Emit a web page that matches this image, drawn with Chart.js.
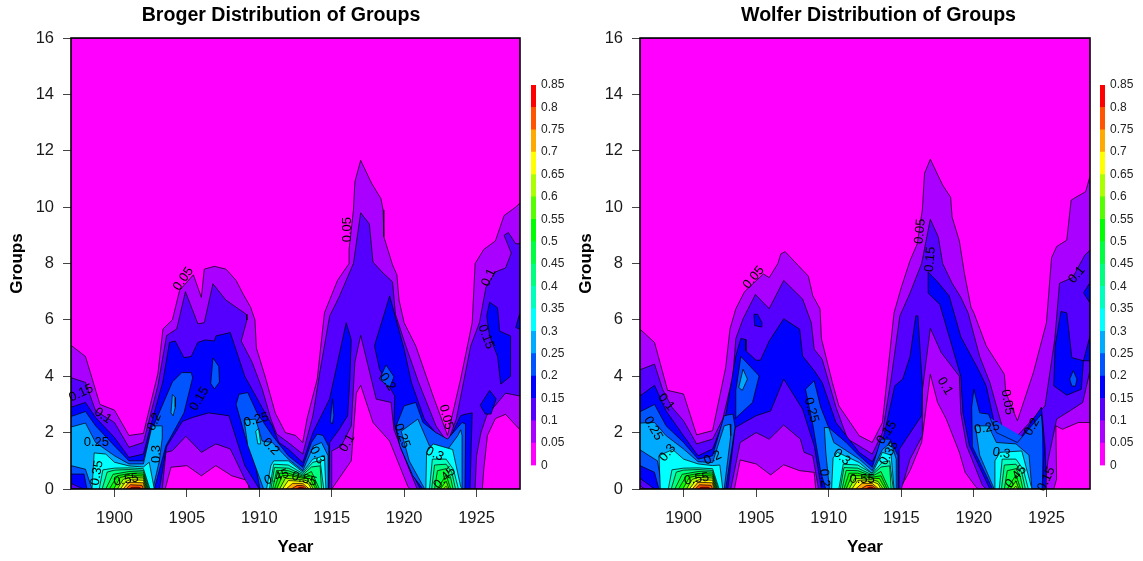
<!DOCTYPE html>
<html>
<head>
<meta charset="utf-8">
<title>Broger and Wolfer Distribution of Groups</title>
<script src="https://cdn.jsdelivr.net/npm/chart.js@4"></script>
<style>
    body { margin: 0; background: #fff; }
    canvas { position: absolute; }
</style>
</head>
<body>
<canvas id="brogerChart" width="562" height="561" style="left:0;top:0"></canvas>
<canvas id="wolferChart" width="562" height="561" style="left:569px;top:0"></canvas>
<canvas id="brogerScale" width="46" height="410" style="left:531px;top:70px"></canvas>
<canvas id="wolferScale" width="46" height="410" style="left:1100px;top:70px"></canvas>
<script>
// values: [year, groups] along each contour
const levels = [0, 0.05, 0.1, 0.15, 0.2, 0.25, 0.3, 0.35, 0.4, 0.45, 0.5, 0.55, 0.6, 0.65, 0.7, 0.75, 0.8, 0.85];
const fieldTop = [[1897, 16], [1928, 16]];

// Broger contours
const b05top = [[1897,5.1],[1898,4.7],[1899,3],[1900,2.8],[1901,1.9],[1902,1.97],[1903,4.1],[1903.35,5.68],[1904,6],[1904.5,7.05],[1905.45,7.6],[1906,6.8],[1906.2,7.8],[1906.9,7.9],[1907.7,7.8],[1908.4,7.4],[1908.9,6.9],[1909.4,6.45],[1909.7,6],[1909.8,5],[1910.4,4],[1911.1,2.7],[1911.8,2],[1912.5,1.9],[1913,1.65],[1913.3,2.5],[1914,3.9],[1914.5,6.25],[1915.4,7.4],[1916.2,8],[1916.2,8.5],[1916.5,9.9],[1916.6,10.9],[1917,11.66],[1917.75,10.85],[1918.4,10.3],[1918.55,9.9],[1918.6,8.95],[1919.2,7.95],[1919.5,7.6],[1919.65,6.7],[1920,5.9],[1920.8,5.08],[1922,3.3],[1923,1.9],[1923.9,3.9],[1924.7,5.9],[1924.9,8],[1925.5,8.5],[1926.3,8.8],[1926.9,9.7],[1927.7,10],[1928,10.15]];
const b05low = [[1897,0],[1903.5,0],[1903.9,.77],[1905,.83],[1906,.47],[1907,.83],[1908.1,.47],[1909.2,.3],[1909.3,0],[1915,0],[1916.35,1],[1916.7,3.4],[1917,3.68],[1917.85,2.36],[1919,1.7],[1920.25,.1],[1920.4,0],[1925.4,0],[1925.5,.7],[1925.75,1.9],[1926.3,2.5],[1927,2.65],[1928,2.1]];
const b10top = [[1897,3.95],[1898,3.78],[1898.7,2.77],[1900,2.36],[1901,1.48],[1902,1.65],[1903,3.66],[1903.6,5.44],[1904.3,5.68],[1904.9,7],[1905.76,5.86],[1906.2,5.9],[1906.8,7.28],[1907.7,6.7],[1909.1,6.2],[1909.15,6],[1908.75,5.25],[1909.5,4.5],[1910.2,3.55],[1910.8,2.48],[1911.2,1.95],[1912,1.65],[1913,1.24],[1913.7,2.6],[1914.2,4.2],[1914.86,6.14],[1915.5,6.8],[1916.5,8],[1917,9.8],[1917.6,9.4],[1917.85,8.05],[1918.55,7.66],[1919.2,7.35],[1919.4,6.2],[1920.1,5.1],[1921,3.78],[1922.2,2.24],[1923,1.65],[1923.6,2.48],[1924.6,5.08],[1925.2,5.9],[1925.65,7.16],[1926.3,7.7],[1927,7.84],[1927.4,8.37],[1926.9,9],[1927.2,9.1],[1927.7,8.7],[1928,8.7]];
const b10low = [[1897,0],[1903.3,0],[1903.55,1.3],[1904,1.36],[1904.93,1.87],[1906,1.3],[1907,1.6],[1908,1.42],[1909,.35],[1909.4,0],[1915,0],[1915,1.35],[1915.66,1.53],[1916.35,2.24],[1916.6,4.5],[1917,5.45],[1918.07,3.19],[1919.1,3.07],[1919.3,2.1],[1920.25,.83],[1920.9,0],[1924.9,0],[1925,1.18],[1925.3,2],[1925.7,2.6],[1927,3.4],[1928,3.3]];
const b15top = [[1897,2.9],[1898,3.07],[1898.7,2.54],[1900,1.83],[1901,1.12],[1902,1.24],[1902.5,2.24],[1903.33,3.78],[1903.8,5.2],[1904.2,5.25],[1904.8,4.66],[1905.3,4.7],[1905.75,5.2],[1906.3,5.29],[1906.9,5.25],[1907,5.43],[1908,5.55],[1909,4],[1910,3.07],[1910.9,2.24],[1911.35,1.65],[1912,1.42],[1913,.94],[1913.7,2],[1914.85,3.19],[1916,5.9],[1916.35,5.3]];
const b15low = [[1897,.2],[1897.85,0],[1903.1,0],[1903.6,1.5],[1904.7,2.4],[1905.4,2.54],[1906.5,2.7],[1907.9,2.6],[1909,.83],[1910,0],[1914.8,0],[1914.86,1.65],[1915.5,2.1],[1916.1,2.6],[1916.25,3.9],[1916.35,5.3]];
const b15top2 = [[1917.95,5.08],[1919,6.85],[1920,4.96],[1920.5,3.78],[1921.4,2.48],[1922.9,1.53],[1923.9,2.6],[1924.2,2.65],[1924.7,2.7]];
const b15low2 = [[1917.95,5.08],[1918.3,4.25],[1919.35,3.3],[1919.3,2.36],[1919.8,1.4],[1921.1,0],[1924.55,0],[1924.7,2.7]];
const b15top3 = [[1925.7,6.14],[1925.9,6.63],[1926.45,6.43],[1926.6,5.6],[1927.35,5.43]];
const b15low3 = [[1925.7,6.14],[1925.9,5.43],[1926.45,4.7],[1926.67,3.72],[1927.35,4],[1927.35,5.43]];
const b15top4 = [[1925.25,2.97],[1925.9,3.5],[1926.35,3.2]];
const b15low4 = [[1925.25,2.97],[1925.6,2.66],[1926,2.66],[1926.35,3.2]];
const b15top5 = [[1927.7,5.73],[1928,6.26]];
const b15low5 = [[1927.7,5.73],[1928,5.67]];
const b20top = [[1897,2.57],[1898,2.75],[1898.7,2.24],[1900,1.53],[1901,1],[1902,1],[1902.5,2],[1903,2.6],[1904,3.8],[1904.65,4.13],[1905.3,4.13],[1905.4,3.95]];
const b20low = [[1897,.53],[1897.9,.53],[1898.1,0],[1902.75,0],[1903.55,1.53],[1904.8,2.7],[1905.4,3.95]];
const b20top2 = [[1906.65,3.75],[1906.8,4.65],[1907.2,4.35],[1907.25,3.8]];
const b20low2 = [[1906.65,3.75],[1906.9,3.55],[1907.25,3.8]];
const b20top3 = [[1908.4,3],[1908.6,3.36],[1909.2,3.42],[1909.85,2.7],[1910.9,1.9],[1912,1.18],[1913,.77],[1913.6,1.65],[1914,1.95],[1914.4,1.9],[1914.8,1.5]];
const b20low3 = [[1908.4,3],[1909,1.9],[1909.75,.83],[1910.05,0],[1914.8,0],[1914.8,1.5]];
const b20top4 = [[1918.3,3.9],[1918.75,4.4],[1919.3,3.98]];
const b20low4 = [[1918.3,3.9],[1919,3.6],[1919.3,3.98]];
const b20top5 = [[1919.45,2.24],[1920,2.95],[1920.8,3.07],[1921.3,2.36],[1922.2,2],[1923,1.77],[1924,2.36],[1924.25,2.3]];
const b20low5 = [[1919.45,2.24],[1919.7,1.53],[1920.6,.47],[1921.3,0],[1924.2,0],[1924.25,2.3]];
const b20top6 = [[1914.9,2.4],[1915.05,3.2],[1915.15,2.6]];
const b20low6 = [[1914.9,2.4],[1915.05,2.3],[1915.15,2.6]];
const b25top = [[1897,2.2],[1898,2.34],[1898.7,1.65],[1900,1.18],[1901,.89],[1902,.89],[1902.6,2.24],[1903.3,2.24]];
const b25low = [[1897,.83],[1898,.7],[1898.45,0],[1902.65,0],[1903.1,1],[1903.3,1.8],[1903.3,2.24]];
const b25top2 = [[1903.9,2.7],[1904,3.35],[1904.2,3.25],[1904.2,2.9]];
const b25low2 = [[1903.9,2.7],[1904.05,2.6],[1904.2,2.9]];
const b25top3 = [[1908.95,2.45],[1909.75,2.48],[1910.2,1.7],[1910.9,1.65],[1912,1.06],[1913,.65],[1913.75,1.53],[1914.3,1.65],[1914.75,1.18]];
const b25low3 = [[1908.95,2.45],[1909.2,1.55],[1910.3,0],[1914.75,0],[1914.75,1.18]];
const b25top4 = [[1919.8,2.05],[1920.95,2.48],[1921.75,1.53],[1923,1.4],[1923.7,1.89],[1923.9,2.1],[1924,1.9]];
const b25low4 = [[1919.8,2.05],[1920.35,1],[1921.42,0],[1924,0],[1924,1.9]];
const b30top = [[1898.45,0],[1898.6,1.28],[1899.4,1.24],[1900,.95],[1901,.82],[1902,.78],[1902.4,.95],[1902.75,0]];
const b30top2 = [[1909.75,2.05],[1909.95,2.15],[1910.1,1.6]];
const b30low2 = [[1909.75,2.05],[1909.9,1.6],[1910.1,1.6]];
const b30top3 = [[1910.5,0],[1910.8,.83],[1911,1],[1912,1],[1913,.6],[1913.7,1.06],[1914.5,1.18],[1914.6,0]];
const b30top4 = [[1921.5,0],[1921.55,1.3],[1922,1.6],[1923.35,1.4],[1923.9,.1],[1924,0]];

// Wolfer contours
const w05top = [[1897,5.67],[1898,5.2],[1898.9,3.5],[1900,3.37],[1900.9,1.92],[1902,2.07],[1902.9,4.3],[1903.2,5.68],[1903.6,6.39],[1904.2,7],[1905.5,7.63],[1905.9,7.5],[1906.5,8],[1906.7,8.34],[1907,8.42],[1907.9,7.93],[1908.6,7.55],[1908.9,6.86],[1909.4,6.39],[1909.5,5.33],[1910.25,3.78],[1910.7,2.95],[1912.1,1.89],[1913,1.65],[1913.7,2.36],[1914.5,6.25],[1915,7.15],[1915.6,8.1],[1916.1,8.7],[1916.45,9.9],[1916.6,11.2],[1917,11.7],[1917.85,10.78],[1918.4,10.35],[1918.5,9.65],[1919,8.8],[1919.35,7.65],[1919.8,6.45],[1920,6.25],[1920.85,5.08],[1922.1,4.07],[1922.2,3.42],[1923,2.42],[1924.1,4.13],[1925,5.9],[1925.35,8.2],[1925.7,8.6],[1926.4,8.83],[1926.7,10.25],[1927.7,10.55],[1928,11.1]];
const w05low = [[1897,0],[1903.5,0],[1903.9,1.03],[1905,.89],[1906,.5],[1906.9,.86],[1908,.65],[1909,.59],[1909.1,0],[1914.9,0],[1915.6,.65],[1916.4,1.65],[1917,4.07],[1917.5,3.07],[1918.1,2.48],[1919,1.3],[1919.4,.59],[1920.1,.1],[1920.3,0],[1925.5,0],[1925.7,.35],[1925.65,2.24],[1926.1,2.12],[1927.2,2.36],[1928,2.36]];
const w10top = [[1897,4.23],[1898,4.43],[1898.55,3.54],[1899.2,2.9],[1900,2.42],[1900.9,1.6],[1902,1.77],[1902.7,2.48],[1903.4,4],[1903.6,5.33],[1904.1,6.04],[1904.95,6.9],[1905.9,6.4],[1906.9,7.4],[1908.2,6.74],[1908.8,5.9],[1909,4.96],[1909.55,4.6],[1910.5,2.9],[1911.3,1.77],[1912.1,1.53],[1913,1.24],[1913.7,2],[1914.3,3.9],[1914.9,6.14],[1915.6,6.95],[1916.4,8],[1917,9.57],[1917.55,8.94],[1917.85,8],[1918.5,7.3],[1919.1,6.8],[1919.6,6.25],[1920.4,4.7],[1921.1,3.78],[1922,2.12],[1923,1.89],[1924.9,2.95],[1925.57,5.3],[1925.9,7.3],[1926.8,7.5],[1927.65,8.3],[1928,8.47]];
const w10low = [[1897,.12],[1897.3,0],[1903.25,0],[1903.9,1.65],[1905,2],[1905.9,1.77],[1906.9,2.27],[1908.05,1.77],[1908.3,1.3],[1908.9,1.18],[1909.3,0],[1915,0],[1915.6,1.06],[1916.45,1.89],[1916.45,3.5],[1917,5.7],[1917.75,4.84],[1919,4],[1919.1,2.7],[1919.5,1.53],[1920.6,.12],[1920.85,0],[1924.9,0],[1925.1,1],[1925.7,2.48],[1926.6,2.77],[1927.5,3.07],[1928,4.2]];
const w15top = [[1897,3.3],[1898,3.68],[1898.8,2.77],[1900,1.89],[1901,1.18],[1902,1.42],[1902.9,2.6],[1903.6,4.72],[1903.95,5.34],[1904.3,5.3],[1904.3,4.9],[1905,4.57],[1905.3,4.57],[1905.9,5.25],[1906.9,6.04],[1908,5.67],[1908.2,4.72],[1909,4.2],[1909.55,3.78],[1910.5,2.36],[1912.1,1.3],[1913,.97],[1913.7,1.65],[1914.55,3.66],[1915.1,3.9],[1915.6,4.7],[1916,6.14],[1916.15,6.14],[1916.45,3.66]];
const w15low = [[1897,.38],[1898,0],[1903.05,0],[1903.55,2.18],[1905,2.6],[1906,2.77],[1906.9,3.9],[1908.2,2.83],[1909,1.53],[1909.5,0],[1914.85,0],[1914.85,1.4],[1916.4,2.6],[1916.45,3.66]];
const w15top2 = [[1916.85,6.95],[1916.85,7.7],[1917.5,7.35],[1918.3,6.85],[1919.1,5.4],[1920.3,4.25],[1920.85,3.66],[1921.5,2.12],[1923,1.65],[1924.65,2.9],[1924.9,1.53],[1925,0]];
const w15low2 = [[1916.85,6.95],[1917.65,6.55],[1919.1,4],[1919.25,2.7],[1919.7,1.53],[1921.1,0],[1925,0]];
const w15top3 = [[1925.5,3.66],[1925.6,5.08],[1926,6.3],[1926.4,6.25],[1926.75,4.66],[1927.55,4.55],[1928,5.43]];
const w15low3 = [[1925.5,3.66],[1926.4,3.33],[1927.4,3.54],[1927.55,4.55],[1928,4.55]];
const w15top4 = [[1927.55,6.96],[1928,7.32]];
const w15low4 = [[1927.55,6.96],[1928,6.6]];
const w15top5 = [[1904.85,6.2],[1905.1,6.2],[1905.4,5.9]];
const w15low5 = [[1904.85,6.2],[1904.9,5.8],[1905.35,5.75],[1905.4,5.9]];
const w20top = [[1897,2.74],[1898,3],[1898.8,2.24],[1900,1.65],[1901,1.06],[1902,1.18],[1902.8,2.6],[1903.4,2.66],[1903.55,2.2]];
const w20low = [[1897,.83],[1898,.59],[1898.3,0],[1902.9,0],[1903.55,2.2]];
const w20top2 = [[1903.55,2.5],[1903.6,3.5],[1903.95,4.7],[1905.1,4.07],[1905.2,4]];
const w20low2 = [[1903.55,2.5],[1904.75,3.07],[1905.2,4]];
const w20top3 = [[1908.4,3.54],[1909,3.84],[1909.45,2.9],[1910,2.18],[1911.2,1.65],[1912.1,1.18],[1913,.77],[1913.6,1.77],[1914.2,1.77],[1914.77,1.18]];
const w20low3 = [[1908.4,3.54],[1908.9,2.3],[1909.45,.6],[1909.8,0],[1914.77,0],[1914.77,1.18]];
const w20top4 = [[1919.85,2.9],[1920,3.54],[1920.4,2.7],[1921,2.66],[1921.55,2],[1923,1.65],[1924.65,2.65],[1924.85,1.4],[1924.7,0]];
const w20low4 = [[1919.85,2.9],[1919.9,1.5],[1921.3,0],[1924.7,0]];
const w20top5 = [[1926.6,3.9],[1926.85,4.2],[1927.1,3.9]];
const w20low5 = [[1926.6,3.9],[1926.75,3.65],[1927,3.65],[1927.1,3.9]];
const w25top = [[1897,2.34],[1898,2.36],[1898.8,1.89],[1900,1.42],[1901,.97],[1902,.94],[1902.8,2.24],[1903.2,2.3],[1903.25,1.89]];
const w25low = [[1897,1.39],[1898.2,1],[1898.55,0],[1902.8,0],[1903.25,1.89]];
const w25top2 = [[1903.8,3.6],[1904.1,4.25],[1904.4,3.9]];
const w25low2 = [[1903.8,3.6],[1904.05,3.5],[1904.4,3.9]];
const w25top3 = [[1909.7,2.18],[1910,2.18],[1910.35,1.65],[1912.1,1.06],[1913,.65],[1913.7,1.4],[1914.3,1.65],[1914.65,1.06]];
const w25low3 = [[1909.7,2.18],[1909.8,1.3],[1910.05,0],[1914.65,0],[1914.65,1.06]];
const w25top4 = [[1920.1,2.24],[1921,2.24],[1921.55,1.65],[1922.9,1.6],[1923.8,1.2],[1924,0]];
const w25low4 = [[1920.1,2.24],[1920.4,1.2],[1921.4,0],[1924,0]];
const w30top = [[1898.4,0],[1898.3,1.18],[1899.25,1.4],[1900,1.06],[1901,.89],[1902,.83],[1902.5,.85],[1902.7,0]];
const w30top2 = [[1910.2,0],[1910.3,1.1],[1910.6,1.3],[1912.1,.94],[1913,.55],[1913.7,1.3],[1914.3,1.2],[1914.5,0]];
const w30top3 = [[1921.45,0],[1921.45,1],[1921.8,1.3],[1923.3,1.35],[1924,0]];

// peaks near zero, about the same in both panels
const a35 = [[1898.95,0],[1899.2,.68],[1900,.74],[1901,.75],[1902,.72],[1902.45,0]];
const a40 = [[1899.15,0],[1899.5,.6],[1900,.67],[1901,.69],[1902,.66],[1902.4,0]];
const a45 = [[1899.4,0],[1899.9,.52],[1901,.62],[1902,.6],[1902.33,0]];
const a50 = [[1899.65,0],[1900.2,.47],[1901,.55],[1902,.53],[1902.28,0]];
const a55 = [[1899.95,0],[1900.4,.41],[1901,.48],[1902,.46],[1902.22,0]];
const a60 = [[1900.2,0],[1900.6,.34],[1901,.41],[1902,.39],[1902.17,0]];
const a65 = [[1900.4,0],[1900.8,.27],[1901.1,.33],[1902,.31],[1902.12,0]];
const a70 = [[1900.6,0],[1901,.24],[1902,.22],[1902.07,0]];
const a75 = [[1900.8,0],[1901.1,.15],[1901.9,.13],[1902,0]];
const a80 = [[1901,0],[1901.2,.06],[1901.7,.06],[1901.9,0]];
const m35 = [[1910.7,0],[1911,.88],[1912,.85],[1913,.55],[1913.7,.95],[1914.2,1],[1914.45,0]];
const m40 = [[1910.8,0],[1911.05,.76],[1912,.74],[1913,.5],[1913.6,.78],[1914.2,.82],[1914.3,0]];
const m45 = [[1910.92,0],[1911.2,.66],[1912,.65],[1913,.46],[1913.6,.62],[1914.15,0]];
const m50 = [[1911.05,0],[1911.4,.56],[1912,.56],[1913,.42],[1913.6,.47],[1914.02,0]];
const m55 = [[1911.2,0],[1911.6,.48],[1912.2,.47],[1913,.38],[1913.5,.37],[1913.9,0]];
const m60 = [[1911.4,0],[1911.8,.38],[1913,.33],[1913.4,.27],[1913.75,0]];
const m65 = [[1911.6,0],[1912,.3],[1913,.27],[1913.4,.18],[1913.6,0]];
const m70 = [[1911.85,0],[1912.3,.2],[1913,.2],[1913.45,0]];
const m75 = [[1912.2,0],[1912.6,.12],[1913,.13],[1913.3,0]];
const m80 = [[1912.55,0],[1912.8,.06],[1913,.06],[1913.15,0]];
const z35 = [[1921.75,0],[1921.95,1.06],[1922.9,1.06],[1923.4,.7],[1923.75,0]];
const z40 = [[1921.9,0],[1922.1,.85],[1922.9,.88],[1923.3,.58],[1923.55,0]];
const z45 = [[1922.1,0],[1922.3,.65],[1922.9,.72],[1923.2,.42],[1923.38,0]];
const z50 = [[1922.3,0],[1922.9,.5],[1923.22,0]];
const z55 = [[1922.5,0],[1922.9,.28],[1923.1,0]];
const z60 = [[1922.7,0],[1922.9,.1],[1923.02,0]];

// [index into levels, top contour, lower contour (missing = down to zero)]
const peakBands = [[7,a35],[7,m35],[7,z35],[8,a40],[8,m40],[8,z40],[9,a45],[9,m45],[9,z45],[10,a50],[10,m50],[10,z50],[11,a55],[11,m55],[11,z55],[12,a60],[12,m60],[12,z60],[13,a65],[13,m65],[14,a70],[14,m70],[15,a75],[15,m75],[16,a80],[16,m80]];
const brogerBands = [[0,fieldTop],[1,b05top,b05low],[2,b10top,b10low],[3,b15top,b15low],[3,b15top2,b15low2],[3,b15top3,b15low3],[3,b15top4,b15low4],[3,b15top5,b15low5],[4,b20top,b20low],[4,b20top2,b20low2],[4,b20top3,b20low3],[4,b20top4,b20low4],[4,b20top5,b20low5],[4,b20top6,b20low6],[5,b25top,b25low],[5,b25top2,b25low2],[5,b25top3,b25low3],[5,b25top4,b25low4],[6,b30top],[6,b30top2,b30low2],[6,b30top3],[6,b30top4]].concat(peakBands);
const wolferBands = [[0,fieldTop],[1,w05top,w05low],[2,w10top,w10low],[3,w15top,w15low],[3,w15top2,w15low2],[3,w15top3,w15low3],[3,w15top4,w15low4],[3,w15top5,w15low5],[4,w20top,w20low],[4,w20top2,w20low2],[4,w20top3,w20low3],[4,w20top4,w20low4],[4,w20top5,w20low5],[5,w25top,w25low],[5,w25top2,w25low2],[5,w25top3,w25low3],[5,w25top4,w25low4],[6,w30top],[6,w30top2],[6,w30top3]].concat(peakBands);

// contour labels: [text, year, groups, angle]
const brogerLabels = [['0.05',1904.76,7.45,-55],['0.05',1916.1,9.2,-90],['0.15',1897.7,3.4,-25],['0.1',1899.2,2.6,35],['0.25',1898.75,1.65,0],['0.35',1898.8,.57,-80],['0.55',1900.8,.32,-10],['0.2',1902.75,2.38,-65],['0.3',1902.9,1.24,-90],['0.15',1905.86,3.2,-60],['0.25',1909.8,2.45,-15],['0.2',1910.8,1.5,45],['0.45',1911.2,.42,-20],['0.55',1913.1,.35,15],['0.3',1914,1.2,60],['0.1',1916.07,1.63,-60],['0.2',1918.85,3.8,55],['0.25',1919.85,1.88,70],['0.05',1922.9,2.55,75],['0.3',1922.1,1.24,25],['0.45',1922.8,.39,-45],['0.15',1925.65,5.4,70],['0.1',1925.85,7.5,-65]];
const wolferLabels = [['0.05',1904.83,7.5,-50],['0.05',1916.3,9.14,-85],['0.15',1917,8.15,-85],['0.1',1898.8,3.08,50],['0.25',1897.9,2.15,60],['0.3',1898.9,1.28,-50],['0.55',1900.9,.35,-10],['0.2',1902,1.1,-25],['0.25',1908.8,2.8,75],['0.2',1909.7,.39,85],['0.3',1910.9,1.13,40],['0.55',1912.3,.35,0],['0.15',1914,2,-55],['0.35',1914.15,1.27,-60],['0.1',1918,3.65,60],['0.05',1922.3,3.08,80],['0.25',1920.9,2.16,-10],['0.3',1921.9,1.27,10],['0.45',1922.9,.43,-50],['0.2',1924,2.2,-60],['0.15',1925,.35,-65],['0.1',1927.1,7.6,-50]];

const levelColors = ['#FF00FF','#AA00FF','#5500FF','#0000FF','#0055FF','#00AAFF','#00FFFF','#00FFBF','#00FF80','#00FF40','#00FF00','#55FF00','#AAFF00','#FFFF00','#FFAA00','#FF5500','#FF0000'];

const fontFamily = '"Liberation Sans", Arial, sans-serif';
const toPoints = rows => rows.map(r => ({ x: r[0], y: r[1] }));

// chart box, contour labels and title position
const panelPlugin = {
    id: 'panel',
    afterLayout(chart, args, opts) {
        chart.titleBlock.left = 0;
        chart.titleBlock.right = opts.titleCenter * 2;
    },
    afterDatasetsDraw(chart, args, opts) {
        const { ctx, chartArea, scales } = chart;
        ctx.save();
        ctx.fillStyle = '#000';
        ctx.font = '13px ' + fontFamily;
        ctx.textAlign = 'center';
        ctx.textBaseline = 'middle';
        opts.labels.forEach(row => {
            ctx.save();
            ctx.translate(scales.x.getPixelForValue(row[1]), scales.y.getPixelForValue(row[2]));
            ctx.rotate(row[3] * Math.PI / 180);
            ctx.fillText(row[0], 0, 0);
            ctx.restore();
        });
        ctx.strokeStyle = '#000';
        ctx.lineWidth = 1.6;
        ctx.strokeRect(chartArea.left, chartArea.top, chartArea.width, chartArea.height);
        ctx.restore();
    }
};

function buildDatasets(bands) {
    const datasets = [];
    // first dataset is painted last, so the highest levels go first
    bands.slice().reverse().forEach(band => {
        const base = {
            borderColor: 'rgba(0,0,0,0.9)',
            borderWidth: 0.8,
            pointRadius: 0,
            tension: 0
        };
        if (band[2]) {
            datasets.push({ ...base, data: toPoints(band[2]), fill: false });
            datasets.push({ ...base, data: toPoints(band[1]), fill: '-1', backgroundColor: levelColors[band[0]] });
        } else {
            datasets.push({ ...base, data: toPoints(band[1]), fill: { value: 0 }, backgroundColor: levelColors[band[0]] });
        }
    });
    return datasets;
}

function renderPanel(canvasId, titleText, titleCenter, rightPad, bands, labels) {
    const ctx = document.getElementById(canvasId).getContext('2d');
    new Chart(ctx, {
        type: 'line',
        data: { datasets: buildDatasets(bands) },
        plugins: [panelPlugin],
        options: {
            responsive: false,
            animation: false,
            events: [],
            layout: { padding: { right: rightPad } },
            plugins: {
                legend: { display: false },
                tooltip: { enabled: false },
                title: {
                    display: true,
                    text: titleText,
                    color: '#000',
                    font: { family: fontFamily, size: 19.6, weight: 'bold', lineHeight: 1.2 },
                    padding: { top: 4, bottom: 10.5 }
                },
                panel: { titleCenter: titleCenter, labels: labels }
            },
            scales: {
                x: {
                    type: 'linear',
                    min: 1897,
                    max: 1928,
                    afterFit: scale => { scale.height = 72; },
                    grid: { drawOnChartArea: false, tickLength: 8, color: '#444' },
                    border: { display: false },
                    ticks: {
                        stepSize: 5,
                        includeBounds: false,
                        autoSkip: false,
                        maxRotation: 0,
                        padding: 12,
                        color: '#1a1a1a',
                        font: { family: fontFamily, size: 16.5 },
                        callback: value => String(value)
                    },
                    title: {
                        display: true,
                        text: 'Year',
                        color: '#000',
                        font: { family: fontFamily, size: 17, weight: 'bold', lineHeight: 1.2 },
                        padding: { top: 0, bottom: 3 }
                    }
                },
                y: {
                    min: 0,
                    max: 16,
                    afterFit: scale => { scale.width = 71; },
                    grid: { drawOnChartArea: false, tickLength: 8, color: '#444' },
                    border: { display: false },
                    ticks: {
                        stepSize: 2,
                        padding: 9,
                        color: '#1a1a1a',
                        font: { family: fontFamily, size: 16.5 }
                    },
                    title: {
                        display: true,
                        text: 'Groups',
                        color: '#000',
                        font: { family: fontFamily, size: 17, weight: 'bold', lineHeight: 1.2 },
                        padding: { top: 7, bottom: 0 }
                    }
                }
            }
        }
    });
}

function renderColorScale(canvasId) {
    const ctx = document.getElementById(canvasId).getContext('2d');
    new Chart(ctx, {
        type: 'bar',
        data: {
            labels: [''],
            datasets: levelColors.map((color, i) => ({
                data: [levels[i + 1] - levels[i]],
                backgroundColor: color,
                barPercentage: 1,
                categoryPercentage: 1,
                stack: 'scale'
            }))
        },
        options: {
            responsive: false,
            animation: false,
            events: [],
            layout: { padding: { top: 15, bottom: 14.5 } },
            plugins: { legend: { display: false }, tooltip: { enabled: false } },
            scales: {
                x: { display: false, stacked: true },
                y: {
                    position: 'right',
                    stacked: true,
                    min: 0,
                    max: 0.85,
                    afterFit: scale => { scale.width = 41; },
                    grid: { display: false, drawTicks: false },
                    border: { display: false },
                    ticks: {
                        stepSize: 0.05,
                        autoSkip: false,
                        padding: 5,
                        color: '#222',
                        font: { family: fontFamily, size: 12 },
                        callback: value => String(Number(value.toFixed(2)))
                    }
                }
            }
        }
    });
}

renderPanel('brogerChart', 'Broger Distribution of Groups', 281, 42, brogerBands, brogerLabels);
renderPanel('wolferChart', 'Wolfer Distribution of Groups', 309.5, 41, wolferBands, wolferLabels);
renderColorScale('brogerScale');
renderColorScale('wolferScale');
</script>
</body>
</html>
